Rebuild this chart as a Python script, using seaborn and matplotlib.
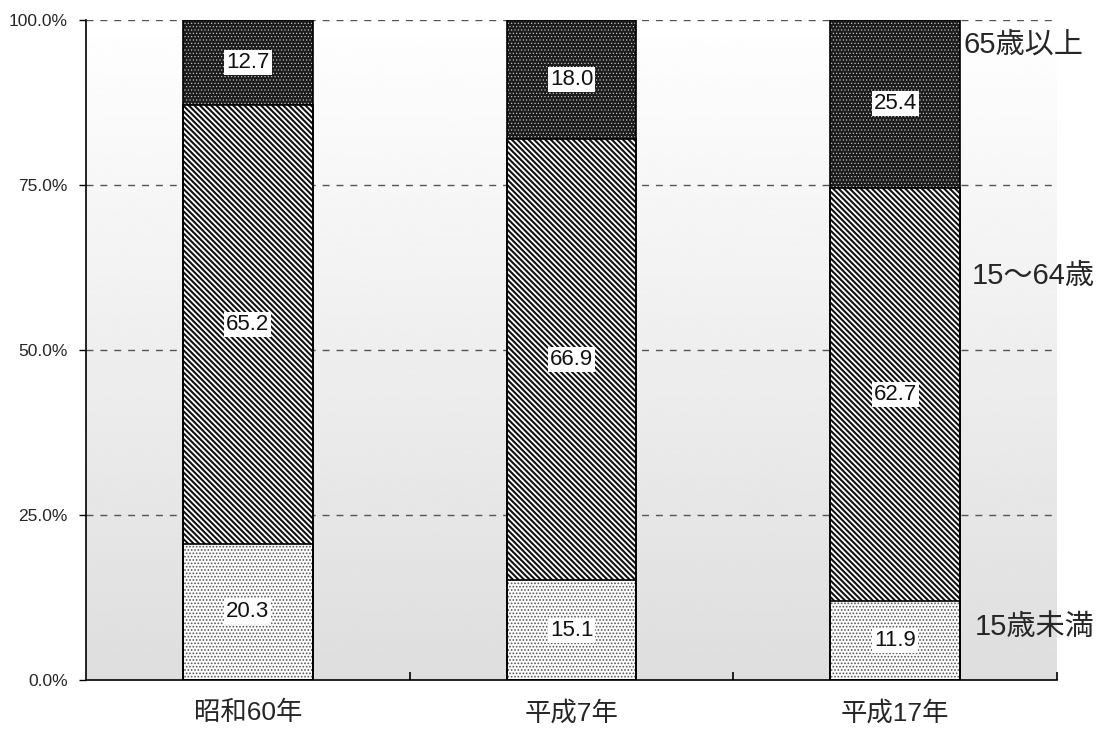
import numpy as np
import pandas as pd
import matplotlib
matplotlib.use('Agg')
import matplotlib.pyplot as plt
import seaborn as sns

# population share by age group (%)
years = ['昭和60年', '平成7年', '平成17年']
under15 = [20.3, 15.1, 11.9]
working = [65.2, 66.9, 62.7]
elderly = [12.7, 18.0, 25.4]
group_names = ['15歳未満', '15～64歳', '65歳以上']

sns.set_theme(style='white')
plt.rcParams['font.family'] = ['Liberation Sans', 'Noto Sans CJK JP', 'DejaVu Sans']

data = pd.DataFrame({'year': years, 'under15': under15,
                     'working': working, 'elderly': elderly})
total = data[['under15', 'working', 'elderly']].sum(axis=1)
# 100% stacked: normalise each column
share = data[['under15', 'working', 'elderly']].div(total, axis=0) * 100
data['c1'] = share['under15']
data['c2'] = share['under15'] + share['working']
data['c3'] = data['c2'] + share['elderly']

fig = plt.figure(figsize=(10.96, 7.31), dpi=100)
ax = fig.add_axes([0.0785, 0.0698, 0.8859, 0.9029])

# gradient background
grad = np.linspace(222, 255, 256).reshape(-1, 1) / 255.0
ax.imshow(grad, extent=(-0.5, 2.5, 0, 100), aspect='auto', origin='lower',
          cmap='gray', vmin=0, vmax=1, zorder=0, interpolation='bicubic')

for y in [25, 50, 75, 100]:
    ax.axhline(y, color='#555555', lw=1, ls=(0, (5, 5)), zorder=1)

# patterned layers, tallest first
layers = [('c3', '#1c1c1c', '#d8d8d8', '.....', 0.4),
          ('c2', 'white', '#111111', '\\' * 6, 1.5),
          ('c1', 'white', '#555555', '.....', 0.8)]
for col, face, hcol, hatch, hlw in layers:
    with plt.rc_context({'hatch.linewidth': hlw}):
        sns.barplot(data=data, x='year', y=col, ax=ax, color=face, saturation=1,
                    width=0.4, hatch=hatch, edgecolor=hcol, linewidth=0, zorder=2)
for col in ['c3', 'c2', 'c1']:
    sns.barplot(data=data, x='year', y=col, ax=ax, fill=False, color='black',
                width=0.4, linewidth=1.2, zorder=3)

# value labels
for i in range(len(years)):
    lows = [0, data['c1'][i], data['c2'][i]]
    highs = [data['c1'][i], data['c2'][i], data['c3'][i]]
    vals = [under15[i], working[i], elderly[i]]
    for lo, hi, v in zip(lows, highs, vals):
        ax.text(i, (lo + hi) / 2, f'{v:.1f}', ha='center', va='center',
                fontsize=16, color='#111111', zorder=5,
                bbox=dict(facecolor='white', edgecolor='none', pad=1.5))

# group labels at right
ax.text(2.21, 96.2, group_names[2], fontsize=21, va='center', ha='left')
ax.text(2.238, 61.2, group_names[1], fontsize=21, va='center', ha='left')
ax.text(2.247, 8.0, group_names[0], fontsize=21, va='center', ha='left')

ax.set_xlim(-0.5, 2.5)
ax.set_ylim(0, 100)
ax.set_yticks([0, 25, 50, 75, 100])
ax.set_yticklabels(['0.0%', '25.0%', '50.0%', '75.0%', '100.0%'], fontsize=12.5)
ax.set_xticks([0, 1, 2])
ax.set_xticklabels(years, fontsize=19)
ax.set_xticks([0.5, 1.5, 2.5], minor=True)
ax.tick_params(axis='x', which='major', length=0, pad=15)
ax.tick_params(axis='x', which='minor', direction='in', length=6, width=1.2,
               color='black', bottom=True)
ax.tick_params(axis='y', direction='out', length=5, width=1, color='black',
               left=True, pad=8)
ax.set_xlabel('')
ax.set_ylabel('')
for s in ['top', 'right']:
    ax.spines[s].set_visible(False)
for s in ['left', 'bottom']:
    ax.spines[s].set_color('black')
    ax.spines[s].set_linewidth(1.2)

fig.savefig('out.png', dpi=100)
